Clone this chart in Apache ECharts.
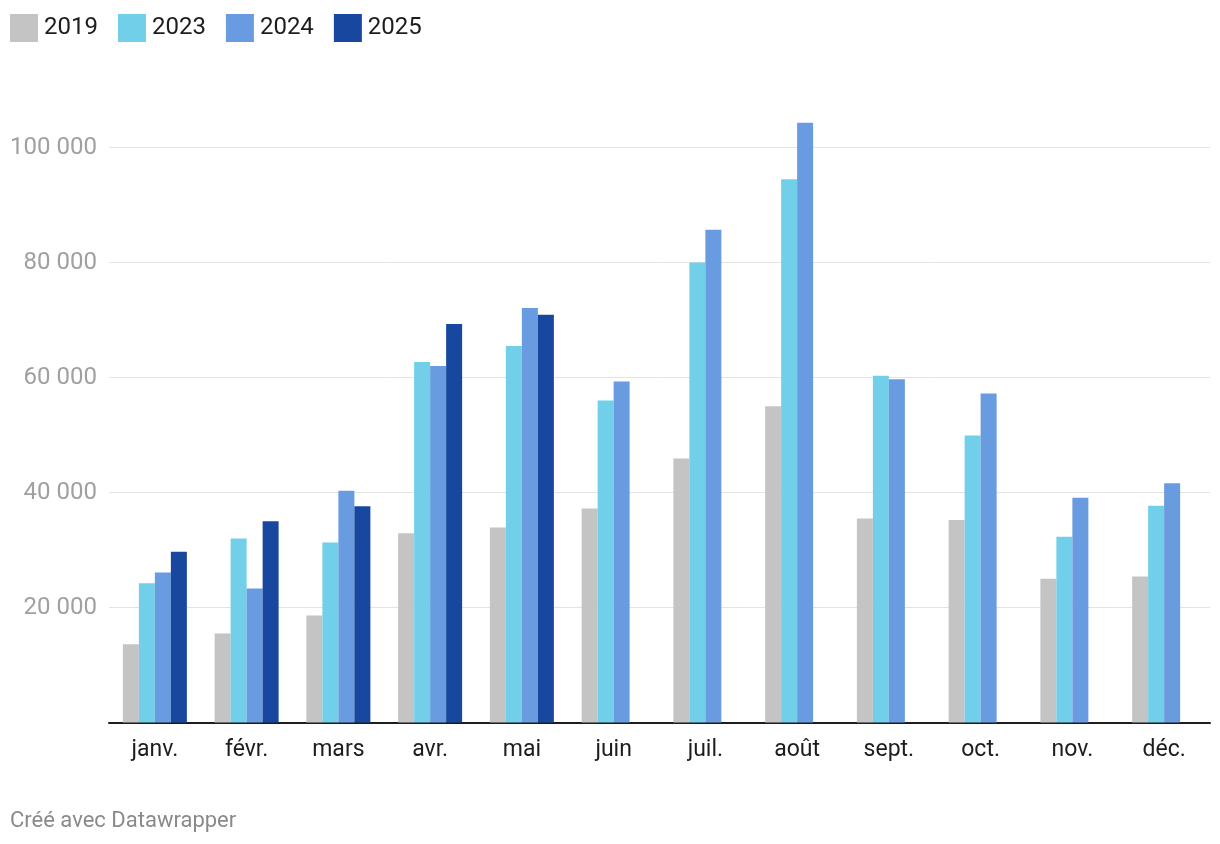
<!DOCTYPE html>
<html>
<head>
<meta charset="utf-8">
<script src="https://cdn.jsdelivr.net/npm/echarts@6/dist/echarts.min.js"></script>
<style>
html,body{margin:0;padding:0;background:#fff;}
#chart{width:1220px;height:844px;}
</style>
</head>
<body>
<div id="chart"></div>
<script>
const categories = ['janv.', 'févr.', 'mars', 'avr.', 'mai', 'juin', 'juil.', 'août', 'sept.', 'oct.', 'nov.', 'déc.'];
const seriesNames = ['2019', '2023', '2024', '2025'];
const v2019 = [13600, 15500, 18600, 32900, 33900, 37200, 45900, 55000, 35500, 35200, 25000, 25400];
const v2023 = [24200, 32000, 31300, 62700, 65500, 56000, 80000, 94500, 60300, 49900, 32300, 37700];
const v2024 = [26100, 23300, 40300, 62000, 72100, 59300, 85700, 104300, 59700, 57200, 39100, 41600];
const v2025 = [29700, 35000, 37600, 69300, 70900, null, null, null, null, null, null, null];
const yTicks = [0, 20000, 40000, 60000, 80000, 100000];
const colors = ['#c4c4c4', '#71cfea', '#699be1', '#17479e'];

const chart = echarts.init(document.getElementById('chart'), null, {renderer: 'canvas'});
const font = 'Roboto, "Noto Sans", sans-serif';
const allValues = [v2019, v2023, v2024, v2025];

chart.setOption({
  animation: false,
  textStyle: {fontFamily: font},
  color: colors,
  legend: {
    left: 10, top: 14, padding: 0,
    itemWidth: 28, itemHeight: 28, itemGap: 20,
    icon: 'rect',
    textStyle: {fontSize: 24, color: '#1d1d1d', fontFamily: font, padding: [0, 0, 0, 1]},
    data: seriesNames
  },
  grid: {left: 109, right: 10, top: 147.5, bottom: 121.5, containLabel: false},
  xAxis: {
    type: 'category',
    data: categories,
    axisLine: {show: true, lineStyle: {color: '#1d1d1d', width: 2}},
    axisTick: {show: false},
    axisLabel: {fontSize: 23, color: '#1d1d1d', margin: 16, fontFamily: font}
  },
  yAxis: {
    type: 'value',
    min: yTicks[0], max: yTicks[yTicks.length - 1], interval: 20000,
    axisLine: {show: false},
    axisTick: {show: false},
    splitLine: {lineStyle: {color: '#e3e3e3', width: 1}},
    axisLabel: {
      fontSize: 24, color: '#a0a0a0', margin: 12, fontFamily: font,
      formatter: function (v) {
        if (v === 0) return '';
        return String(v).replace(/\B(?=(\d{3})+(?!\d))/g, ' ');
      }
    }
  },
  series: seriesNames.map((n, i) => ({
    name: n,
    type: 'bar',
    data: allValues[i],
    barWidth: 16,
    barGap: '0%',
    clip: false,
    itemStyle: {color: colors[i]},
    emphasis: {disabled: true}
  })),
  graphic: [{
    type: 'text', left: 10, top: 810,
    style: {text: 'Créé avec Datawrapper', fontSize: 22, fill: '#8a8a8a', fontFamily: font}
  }]
});
</script>
</body>
</html>
